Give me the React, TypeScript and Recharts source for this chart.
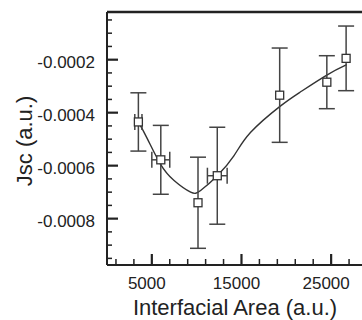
import React from 'react'
import {
  ComposedChart,
  Line,
  Scatter,
  ErrorBar,
  XAxis,
  YAxis,
  ReferenceLine,
} from 'recharts'

// measured points (interfacial area vs Jsc)
const areaValues = [3500, 6000, 10150, 12300, 19260, 24520, 26670]
const jscValues = [-0.000435, -0.000578, -0.00074, -0.000638, -0.000334, -0.000285, -0.000195]
const jscErrors = [0.00011, 0.00013, 0.000172, 0.000183, 0.000178, 0.0001, 0.000122]
const areaErrors = [400, 1000, 0, 1100, 0, 0, 0]

// fitted curve
const fitArea = [3500, 4520, 5960, 7480, 9330, 10440, 12300, 14150, 16000, 19260, 21560, 24520, 26740]
const fitJsc = [
  -0.000435, -0.0005, -0.000594, -0.000656, -0.0007, -0.000694, -0.000638, -0.000563, -0.000475,
  -0.000377, -0.000322, -0.000258, -0.000219,
]

const xTicks = [1000, 3000, 5000, 7000, 9000, 11000, 13000, 15000, 17000, 19000, 21000, 23000, 25000, 27000]
const xMajor = [5000, 15000, 25000]
const yTicks = [
  -0.00005, -0.0001, -0.00015, -0.0002, -0.00025, -0.0003, -0.00035, -0.0004, -0.00045, -0.0005,
  -0.00055, -0.0006, -0.00065, -0.0007, -0.00075, -0.0008, -0.00085, -0.0009, -0.00095,
]
const yMajor = [-0.0002, -0.0004, -0.0006, -0.0008]

const xDomain = [0, 29000]
const yDomain = [-0.000975, -0.00002]

const points = areaValues.map((x, i) => ({
  x,
  y: jscValues[i],
  yErr: jscErrors[i],
  xErr: areaErrors[i],
}))
const fit = fitArea.map((x, i) => ({ x, y: fitJsc[i] }))

const FONT = '"Liberation Sans", Arial, Helvetica, sans-serif'
const INK = '#222'

const YTick = (props: any) => {
  const { x, y, payload } = props
  const major = yMajor.some((v) => Math.abs(v - payload.value) < 1e-9)
  return (
    <g>
      <line x1={x} x2={x + (major ? 11 : 5)} y1={y} y2={y} stroke={INK} strokeWidth={major ? 2.2 : 1.5} />
      {major && (
        <text x={x - 12} y={y} dy={8} textAnchor="end" fontSize={17} fontFamily={FONT} fill={INK}>
          {payload.value.toFixed(4)}
        </text>
      )}
    </g>
  )
}

const XTick = (props: any) => {
  const { x, y, payload } = props
  const major = xMajor.includes(payload.value)
  return (
    <g>
      <line x1={x} x2={x} y1={y} y2={y - (major ? 11 : 6)} stroke={INK} strokeWidth={major ? 2.2 : 1.5} />
      {major && (
        <text x={x - 5} y={y} dy={24} textAnchor="middle" fontSize={17} fontFamily={FONT} fill={INK}>
          {payload.value}
        </text>
      )}
    </g>
  )
}

const Square = (props: any) => {
  const { cx, cy } = props
  return <rect x={cx - 4} y={cy - 4} width={8} height={8} fill="#fff" stroke="#333" strokeWidth={1.3} />
}

export default function App() {
  return (
    <div style={{ position: 'absolute', left: 0, top: 0, width: 362, height: 320, overflow: 'hidden', background: '#fff' }}>
      <ComposedChart width={368} height={320} margin={{ top: 12, right: 1, left: 0, bottom: 0 }}>
        <XAxis
          type="number"
          dataKey="x"
          domain={xDomain}
          ticks={xTicks}
          interval={0}
          allowDataOverflow
          height={55}
          tickSize={0}
          tickMargin={0}
          tickLine={false}
          axisLine={{ stroke: INK, strokeWidth: 2 }}
          tick={<XTick />}
          label={{
            content: ({ viewBox }: any) => (
              <text
                x={viewBox.x + viewBox.width / 2 - 2}
                y={viewBox.y + 50}
                textAnchor="middle"
                fontSize={22}
                fontFamily={FONT}
                fill={INK}
              >
                Interfacial Area (a.u.)
              </text>
            ),
          }}
        />
        <YAxis
          type="number"
          dataKey="y"
          width={107}
          domain={yDomain}
          ticks={yTicks}
          interval={0}
          allowDataOverflow
          tickSize={0}
          tickMargin={0}
          tickLine={false}
          axisLine={{ stroke: INK, strokeWidth: 2 }}
          tick={<YTick />}
          label={{
            content: ({ viewBox }: any) => {
              const cx = 31.5
              const cy = viewBox.y + viewBox.height / 2 + 2.5
              return (
                <text
                  x={cx}
                  y={cy}
                  transform={`rotate(-90 ${cx} ${cy})`}
                  textAnchor="middle"
                  fontSize={22}
                  fontFamily={FONT}
                  fill={INK}
                >
                  Jsc (a.u.)
                </text>
              )
            },
          }}
        />
        <ReferenceLine y={yDomain[1]} stroke={INK} strokeWidth={2.5} />
        <Line
          data={fit}
          dataKey="y"
          type="natural"
          stroke="#333"
          strokeWidth={1.4}
          dot={false}
          activeDot={false}
          isAnimationActive={false}
        />
        <Scatter data={points} dataKey="y" shape={<Square />} isAnimationActive={false}>
          <ErrorBar dataKey="yErr" direction="y" width={8} stroke="#444" strokeWidth={1.5} />
          <ErrorBar dataKey="xErr" direction="x" width={8} stroke="#444" strokeWidth={1.5} />
        </Scatter>
      </ComposedChart>
    </div>
  )
}
